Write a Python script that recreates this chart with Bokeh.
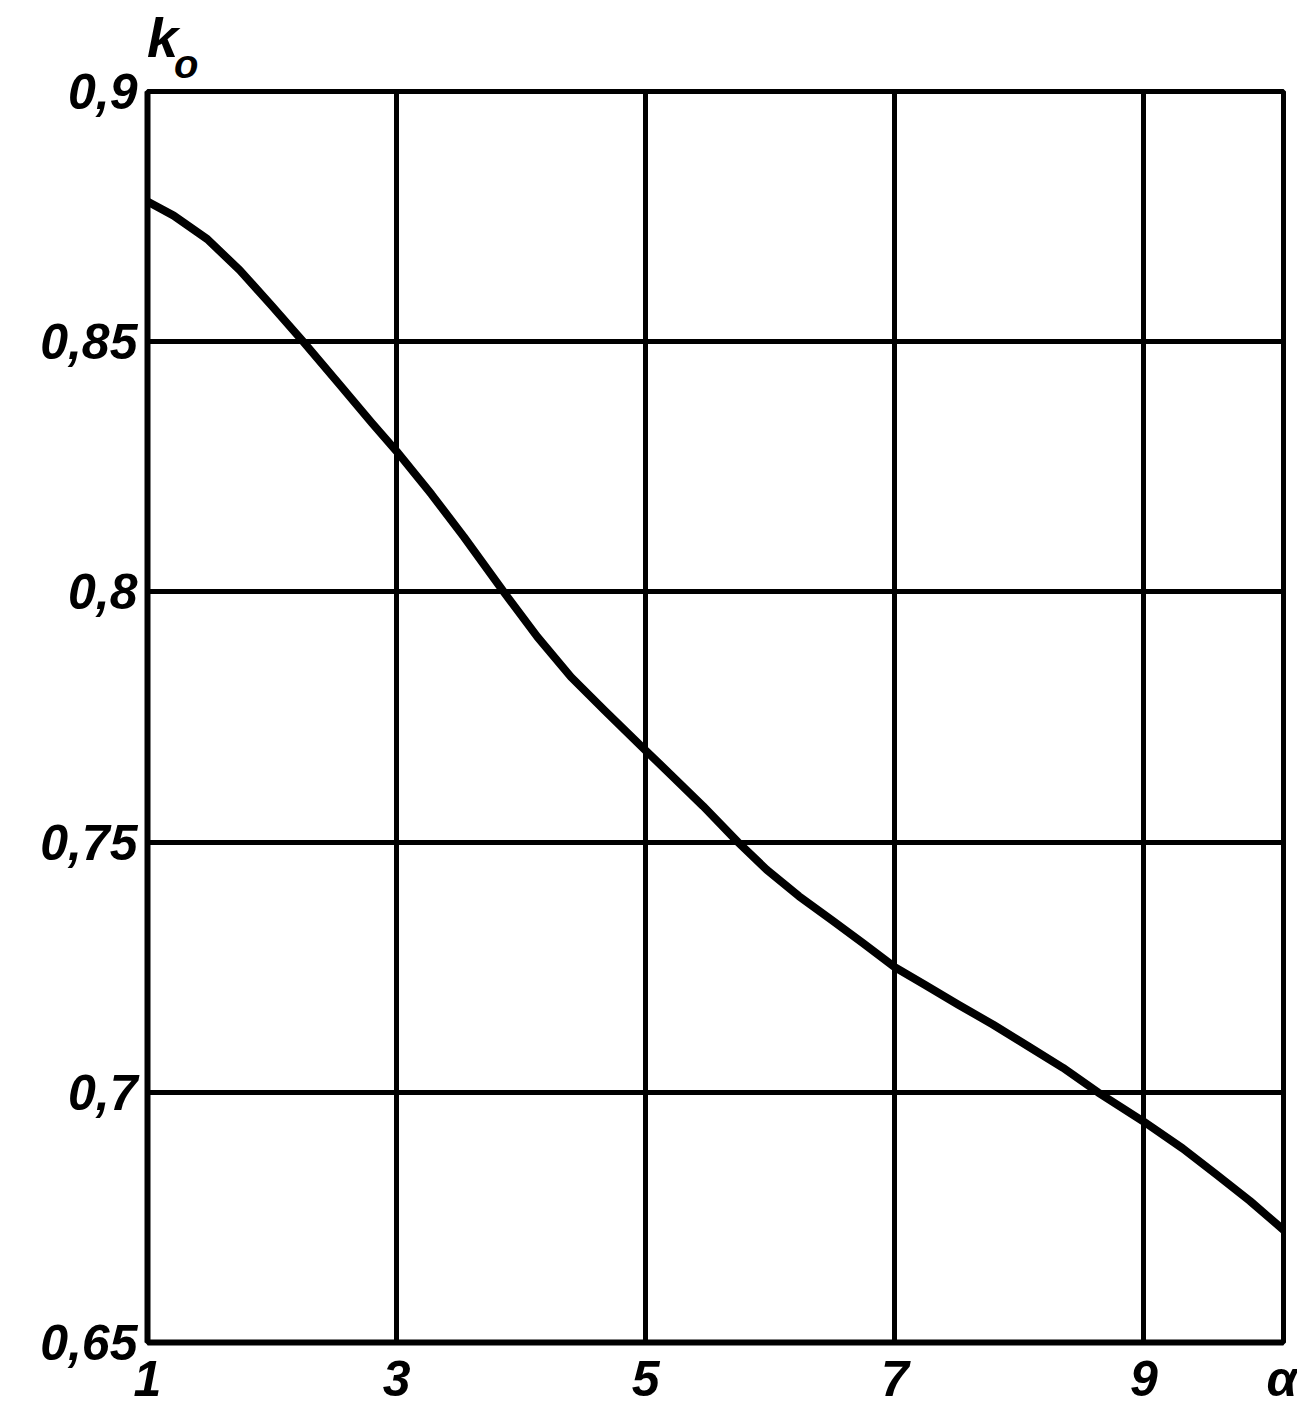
from bokeh.plotting import figure
from bokeh.models import Range1d, FixedTicker, LinearAxis
from bokeh.embed import file_html
from bokeh.resources import INLINE

# data
alpha = [1.0, 1.21, 1.48, 1.74, 2.0, 2.25, 2.54, 2.8, 3.0, 3.28, 3.54, 3.86, 4.13, 4.4, 4.67,
         5.0, 5.2, 5.46, 5.74, 5.97, 6.23, 6.49, 6.74, 7.0, 7.24, 7.51, 7.79, 8.07, 8.35, 8.63,
         9.0, 9.31, 9.58, 9.85, 10.12]
k0 = [0.878, 0.8752, 0.8705, 0.8643, 0.8571, 0.850, 0.8415, 0.8338, 0.8281, 0.8195, 0.811,
      0.800, 0.791, 0.783, 0.7763, 0.7683, 0.7635, 0.7572, 0.750, 0.7445, 0.7392, 0.7345,
      0.7299, 0.7250, 0.7215, 0.7175, 0.7135, 0.7092, 0.7049, 0.700, 0.6941, 0.6888, 0.6836,
      0.6783, 0.6725]

x_grid = [1, 3, 5, 7, 9]
x_ticks = [1, 3, 5, 7, 9, 10.12]
x_tick_labels = ["1", "3", "5", "7", "9", "α"]
y_ticks = [0.65, 0.7, 0.75, 0.8, 0.85, 0.9]
y_tick_labels = ["0,65", "0,7", "0,75", "0,8", "0,85", "0,9"]
y_name_main, y_name_sub = "k", "o"
y_name_pos = [1.12, 1.31]

FONT = "Liberation Sans"

p = figure(width=1297, height=1414, output_backend="svg", toolbar_location=None,
           x_range=Range1d(1, 10.12), y_range=Range1d(0.65, 0.9),
           min_border_left=147, min_border_right=14, min_border_top=91, min_border_bottom=72)
p.background_fill_color = "white"
p.border_fill_color = "white"
p.outline_line_color = "black"
p.outline_line_width = 5


def style_axis(ax, size):
    ax.major_tick_line_color = None
    ax.minor_tick_line_color = None
    ax.major_tick_out = 0
    ax.major_tick_in = 0
    ax.major_label_text_font = FONT
    ax.major_label_text_font_style = "bold italic"
    ax.major_label_text_font_size = size
    ax.major_label_text_color = "black"


p.xaxis.ticker = FixedTicker(ticks=x_ticks)
p.yaxis.ticker = FixedTicker(ticks=y_ticks)
p.xaxis.major_label_overrides = {t: l for t, l in zip(x_ticks, x_tick_labels)}
p.yaxis.major_label_overrides = {t: l for t, l in zip(y_ticks, y_tick_labels)}
for ax in (p.xaxis, p.yaxis):
    ax.axis_line_width = 6
    ax.axis_line_color = "black"
    style_axis(ax, "50px")
p.xaxis.major_label_standoff = 8
p.yaxis.major_label_standoff = 10

p.xgrid.ticker = FixedTicker(ticks=x_grid)
p.xgrid.grid_line_color = "black"
p.xgrid.grid_line_width = 5
p.ygrid.grid_line_color = "black"
p.ygrid.grid_line_width = 5

p.line(alpha, k0, line_color="black", line_width=8, line_cap="round", line_join="round")

# quantity name k_o at the top of the y axis (subscript nearest the frame)
ax_sub = LinearAxis(ticker=FixedTicker(ticks=[y_name_pos[1]]),
                    major_label_overrides={y_name_pos[1]: y_name_sub},
                    axis_line_color=None, major_label_standoff=6)
style_axis(ax_sub, "40px")
p.add_layout(ax_sub, "above")
ax_main = LinearAxis(ticker=FixedTicker(ticks=[y_name_pos[0]]),
                     major_label_overrides={y_name_pos[0]: y_name_main},
                     axis_line_color=None, major_label_standoff=-30)
style_axis(ax_main, "56px")
p.add_layout(ax_main, "above")

open("out.html", "w").write(file_html(p, INLINE))
